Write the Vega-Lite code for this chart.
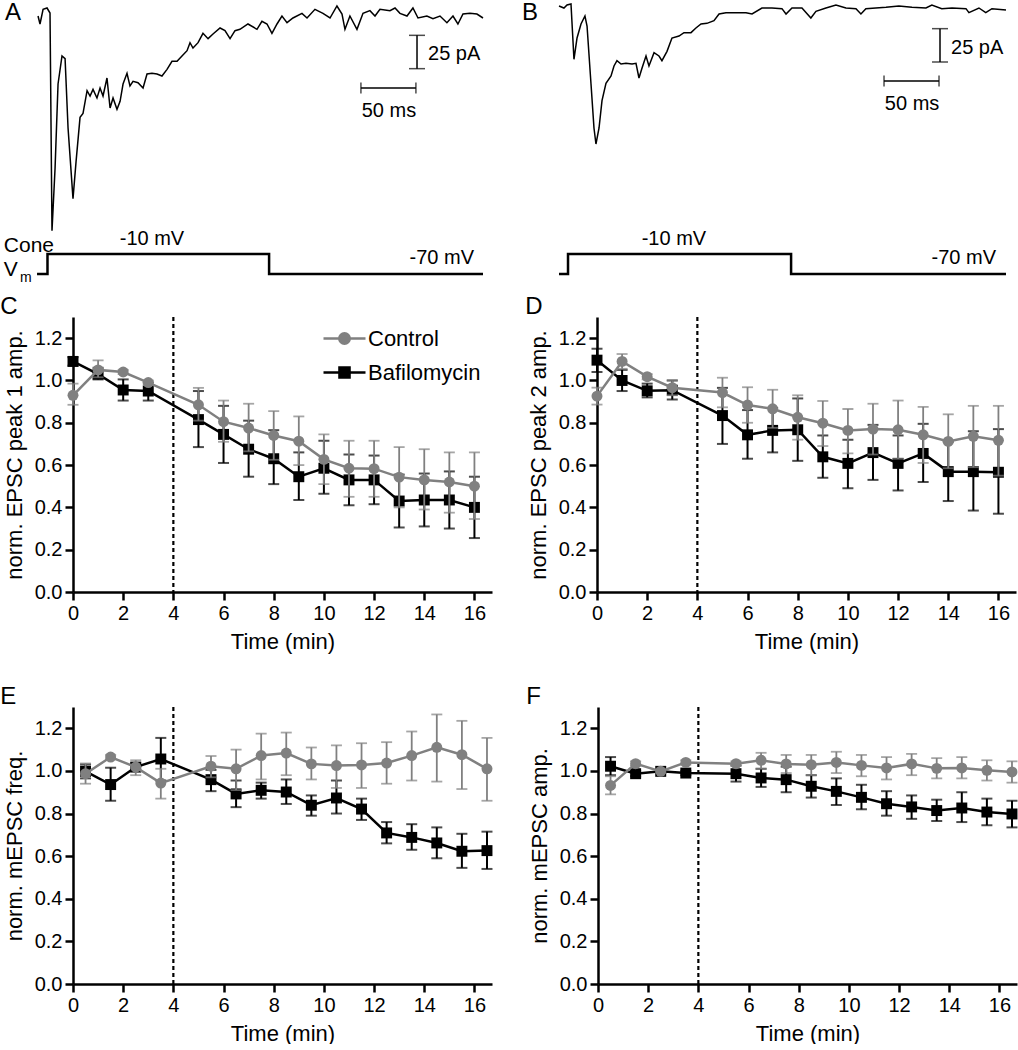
{
"$schema":"https://vega.github.io/schema/vega-lite/v6.json",
"background":"white",
"padding":{"left":0,"top":0,"right":0,"bottom":0},
"datasets":{
"C":[
{"g":"Control","t":0,"m":0.93,"lo":0.885,"hi":0.985},
{"g":"Control","t":1,"m":1.05,"lo":1.015,"hi":1.095},
{"g":"Control","t":2,"m":1.04,"lo":1.03,"hi":1.05},
{"g":"Control","t":3,"m":0.99,"lo":0.98,"hi":1.0},
{"g":"Control","t":5,"m":0.885,"lo":0.81,"hi":0.965},
{"g":"Control","t":6,"m":0.805,"lo":0.71,"hi":0.905},
{"g":"Control","t":7,"m":0.775,"lo":0.665,"hi":0.89},
{"g":"Control","t":8,"m":0.74,"lo":0.625,"hi":0.855},
{"g":"Control","t":9,"m":0.713,"lo":0.6,"hi":0.83},
{"g":"Control","t":10,"m":0.627,"lo":0.51,"hi":0.745},
{"g":"Control","t":11,"m":0.585,"lo":0.45,"hi":0.715},
{"g":"Control","t":12,"m":0.583,"lo":0.45,"hi":0.715},
{"g":"Control","t":13,"m":0.543,"lo":0.4,"hi":0.685},
{"g":"Control","t":14,"m":0.53,"lo":0.39,"hi":0.675},
{"g":"Control","t":15,"m":0.52,"lo":0.375,"hi":0.66},
{"g":"Control","t":16,"m":0.5,"lo":0.345,"hi":0.66},
{"g":"Bafilomycin","t":0,"m":1.09,"lo":1.07,"hi":1.11},
{"g":"Bafilomycin","t":1,"m":1.03,"lo":1.005,"hi":1.06},
{"g":"Bafilomycin","t":2,"m":0.955,"lo":0.905,"hi":1.005},
{"g":"Bafilomycin","t":3,"m":0.95,"lo":0.905,"hi":0.99},
{"g":"Bafilomycin","t":5,"m":0.815,"lo":0.685,"hi":0.95},
{"g":"Bafilomycin","t":6,"m":0.745,"lo":0.61,"hi":0.88},
{"g":"Bafilomycin","t":7,"m":0.675,"lo":0.545,"hi":0.81},
{"g":"Bafilomycin","t":8,"m":0.63,"lo":0.51,"hi":0.765},
{"g":"Bafilomycin","t":9,"m":0.545,"lo":0.435,"hi":0.66},
{"g":"Bafilomycin","t":10,"m":0.585,"lo":0.465,"hi":0.715},
{"g":"Bafilomycin","t":11,"m":0.53,"lo":0.41,"hi":0.65},
{"g":"Bafilomycin","t":12,"m":0.53,"lo":0.415,"hi":0.645},
{"g":"Bafilomycin","t":13,"m":0.43,"lo":0.305,"hi":0.555},
{"g":"Bafilomycin","t":14,"m":0.435,"lo":0.31,"hi":0.56},
{"g":"Bafilomycin","t":15,"m":0.435,"lo":0.3,"hi":0.57},
{"g":"Bafilomycin","t":16,"m":0.4,"lo":0.255,"hi":0.545}
],
"D":[
{"g":"Control","t":0,"m":0.926,"lo":0.886,"hi":0.966},
{"g":"Control","t":1,"m":1.09,"lo":1.055,"hi":1.125},
{"g":"Control","t":2,"m":1.018,"lo":1.005,"hi":1.03},
{"g":"Control","t":3,"m":0.966,"lo":0.93,"hi":1.0},
{"g":"Control","t":5,"m":0.943,"lo":0.873,"hi":1.013},
{"g":"Control","t":6,"m":0.884,"lo":0.8,"hi":0.968},
{"g":"Control","t":7,"m":0.866,"lo":0.776,"hi":0.956},
{"g":"Control","t":8,"m":0.826,"lo":0.72,"hi":0.93},
{"g":"Control","t":9,"m":0.798,"lo":0.69,"hi":0.903},
{"g":"Control","t":10,"m":0.764,"lo":0.655,"hi":0.865},
{"g":"Control","t":11,"m":0.77,"lo":0.65,"hi":0.89},
{"g":"Control","t":12,"m":0.767,"lo":0.63,"hi":0.905},
{"g":"Control","t":13,"m":0.743,"lo":0.61,"hi":0.875},
{"g":"Control","t":14,"m":0.712,"lo":0.585,"hi":0.84},
{"g":"Control","t":15,"m":0.736,"lo":0.59,"hi":0.88},
{"g":"Control","t":16,"m":0.717,"lo":0.55,"hi":0.88},
{"g":"Bafilomycin","t":0,"m":1.096,"lo":1.04,"hi":1.15},
{"g":"Bafilomycin","t":1,"m":1.0,"lo":0.95,"hi":1.05},
{"g":"Bafilomycin","t":2,"m":0.951,"lo":0.92,"hi":0.985},
{"g":"Bafilomycin","t":3,"m":0.954,"lo":0.91,"hi":1.0},
{"g":"Bafilomycin","t":5,"m":0.834,"lo":0.7,"hi":0.965},
{"g":"Bafilomycin","t":6,"m":0.743,"lo":0.63,"hi":0.86},
{"g":"Bafilomycin","t":7,"m":0.764,"lo":0.66,"hi":0.87},
{"g":"Bafilomycin","t":8,"m":0.767,"lo":0.62,"hi":0.915},
{"g":"Bafilomycin","t":9,"m":0.639,"lo":0.54,"hi":0.74},
{"g":"Bafilomycin","t":10,"m":0.608,"lo":0.49,"hi":0.72},
{"g":"Bafilomycin","t":11,"m":0.659,"lo":0.53,"hi":0.79},
{"g":"Bafilomycin","t":12,"m":0.608,"lo":0.48,"hi":0.74},
{"g":"Bafilomycin","t":13,"m":0.655,"lo":0.52,"hi":0.795},
{"g":"Bafilomycin","t":14,"m":0.569,"lo":0.43,"hi":0.71},
{"g":"Bafilomycin","t":15,"m":0.569,"lo":0.385,"hi":0.76},
{"g":"Bafilomycin","t":16,"m":0.566,"lo":0.37,"hi":0.77}
],
"E":[
{"g":"Control","t":0.5,"m":0.987,"lo":0.94,"hi":1.035},
{"g":"Control","t":1.5,"m":1.065,"lo":1.055,"hi":1.075},
{"g":"Control","t":2.5,"m":1.018,"lo":0.98,"hi":1.05},
{"g":"Control","t":3.5,"m":0.943,"lo":0.87,"hi":1.01},
{"g":"Control","t":5.5,"m":1.022,"lo":0.97,"hi":1.07},
{"g":"Control","t":6.5,"m":1.01,"lo":0.91,"hi":1.1},
{"g":"Control","t":7.5,"m":1.072,"lo":0.96,"hi":1.175},
{"g":"Control","t":8.5,"m":1.084,"lo":0.98,"hi":1.18},
{"g":"Control","t":9.5,"m":1.033,"lo":0.96,"hi":1.11},
{"g":"Control","t":10.5,"m":1.025,"lo":0.92,"hi":1.12},
{"g":"Control","t":11.5,"m":1.028,"lo":0.92,"hi":1.13},
{"g":"Control","t":12.5,"m":1.037,"lo":0.94,"hi":1.135},
{"g":"Control","t":13.5,"m":1.072,"lo":0.955,"hi":1.185},
{"g":"Control","t":14.5,"m":1.111,"lo":0.95,"hi":1.265},
{"g":"Control","t":15.5,"m":1.076,"lo":0.915,"hi":1.235},
{"g":"Control","t":16.5,"m":1.01,"lo":0.86,"hi":1.155},
{"g":"Bafilomycin","t":0.5,"m":0.998,"lo":0.965,"hi":1.03},
{"g":"Bafilomycin","t":1.5,"m":0.936,"lo":0.86,"hi":1.015},
{"g":"Bafilomycin","t":2.5,"m":1.018,"lo":1.0,"hi":1.035},
{"g":"Bafilomycin","t":3.5,"m":1.056,"lo":0.955,"hi":1.155},
{"g":"Bafilomycin","t":5.5,"m":0.959,"lo":0.905,"hi":1.005},
{"g":"Bafilomycin","t":6.5,"m":0.892,"lo":0.83,"hi":0.955},
{"g":"Bafilomycin","t":7.5,"m":0.909,"lo":0.87,"hi":0.945},
{"g":"Bafilomycin","t":8.5,"m":0.901,"lo":0.845,"hi":0.96},
{"g":"Bafilomycin","t":9.5,"m":0.839,"lo":0.79,"hi":0.885},
{"g":"Bafilomycin","t":10.5,"m":0.873,"lo":0.8,"hi":0.955},
{"g":"Bafilomycin","t":11.5,"m":0.821,"lo":0.77,"hi":0.87},
{"g":"Bafilomycin","t":12.5,"m":0.709,"lo":0.66,"hi":0.76},
{"g":"Bafilomycin","t":13.5,"m":0.688,"lo":0.63,"hi":0.75},
{"g":"Bafilomycin","t":14.5,"m":0.662,"lo":0.59,"hi":0.735},
{"g":"Bafilomycin","t":15.5,"m":0.623,"lo":0.545,"hi":0.705},
{"g":"Bafilomycin","t":16.5,"m":0.626,"lo":0.54,"hi":0.715}
],
"F":[
{"g":"Control","t":0.5,"m":0.932,"lo":0.89,"hi":0.975},
{"g":"Control","t":1.5,"m":1.034,"lo":1.025,"hi":1.045},
{"g":"Control","t":2.5,"m":0.998,"lo":0.99,"hi":1.006},
{"g":"Control","t":3.5,"m":1.04,"lo":1.03,"hi":1.05},
{"g":"Control","t":5.5,"m":1.034,"lo":1.025,"hi":1.045},
{"g":"Control","t":6.5,"m":1.05,"lo":1.01,"hi":1.085},
{"g":"Control","t":7.5,"m":1.033,"lo":0.99,"hi":1.075},
{"g":"Control","t":8.5,"m":1.029,"lo":0.98,"hi":1.075},
{"g":"Control","t":9.5,"m":1.04,"lo":0.99,"hi":1.09},
{"g":"Control","t":10.5,"m":1.026,"lo":0.975,"hi":1.075},
{"g":"Control","t":11.5,"m":1.014,"lo":0.96,"hi":1.065},
{"g":"Control","t":12.5,"m":1.033,"lo":0.98,"hi":1.08},
{"g":"Control","t":13.5,"m":1.012,"lo":0.965,"hi":1.06},
{"g":"Control","t":14.5,"m":1.014,"lo":0.965,"hi":1.065},
{"g":"Control","t":15.5,"m":1.003,"lo":0.955,"hi":1.05},
{"g":"Control","t":16.5,"m":0.995,"lo":0.945,"hi":1.045},
{"g":"Bafilomycin","t":0.5,"m":1.022,"lo":0.98,"hi":1.065},
{"g":"Bafilomycin","t":1.5,"m":0.987,"lo":0.975,"hi":1.0},
{"g":"Bafilomycin","t":2.5,"m":0.998,"lo":0.99,"hi":1.006},
{"g":"Bafilomycin","t":3.5,"m":0.99,"lo":0.98,"hi":1.0},
{"g":"Bafilomycin","t":5.5,"m":0.987,"lo":0.95,"hi":1.025},
{"g":"Bafilomycin","t":6.5,"m":0.967,"lo":0.925,"hi":1.01},
{"g":"Bafilomycin","t":7.5,"m":0.959,"lo":0.9,"hi":1.02},
{"g":"Bafilomycin","t":8.5,"m":0.928,"lo":0.875,"hi":0.98},
{"g":"Bafilomycin","t":9.5,"m":0.904,"lo":0.84,"hi":0.965},
{"g":"Bafilomycin","t":10.5,"m":0.876,"lo":0.82,"hi":0.935},
{"g":"Bafilomycin","t":11.5,"m":0.846,"lo":0.79,"hi":0.905},
{"g":"Bafilomycin","t":12.5,"m":0.831,"lo":0.775,"hi":0.885},
{"g":"Bafilomycin","t":13.5,"m":0.814,"lo":0.765,"hi":0.865},
{"g":"Bafilomycin","t":14.5,"m":0.826,"lo":0.76,"hi":0.9},
{"g":"Bafilomycin","t":15.5,"m":0.807,"lo":0.745,"hi":0.87},
{"g":"Bafilomycin","t":16.5,"m":0.798,"lo":0.735,"hi":0.86}
],
"traceA":[
{"t":0.9,"i":-6},{"t":2.7,"i":-12},{"t":5.5,"i":-1},{"t":9.1,"i":0},{"t":11.8,"i":-3.8},{"t":13.6,"i":-167},{"t":16.4,"i":-120},{"t":19.1,"i":-57},{"t":22.7,"i":-36},{"t":25.5,"i":-38},{"t":28.2,"i":-90},{"t":32.7,"i":-143},{"t":35.5,"i":-115},{"t":39.1,"i":-82},{"t":41.8,"i":-79},{"t":45.5,"i":-62},{"t":48.2,"i":-66},{"t":50.9,"i":-61},{"t":54.5,"i":-67.5},{"t":57.3,"i":-60},{"t":60,"i":-66},{"t":63.6,"i":-52.5},{"t":66.4,"i":-75},{"t":69.1,"i":-67.5},{"t":72.7,"i":-76},{"t":75.5,"i":-70},{"t":78.2,"i":-57},{"t":81.8,"i":-49},{"t":84.5,"i":-58.5},{"t":87.3,"i":-55},{"t":91.8,"i":-56},{"t":96.4,"i":-60},{"t":100,"i":-49.5},{"t":104.5,"i":-49},{"t":109.1,"i":-49.5},{"t":113.6,"i":-51},{"t":118.2,"i":-46},{"t":122.7,"i":-40},{"t":127.3,"i":-40},{"t":131.8,"i":-36},{"t":136.4,"i":-32},{"t":139.1,"i":-26},{"t":141.8,"i":-30},{"t":146.4,"i":-26},{"t":150.9,"i":-19},{"t":155.5,"i":-23},{"t":160,"i":-19.5},{"t":166.4,"i":-15},{"t":170.9,"i":-17},{"t":175.5,"i":-23},{"t":180,"i":-17},{"t":184.5,"i":-16},{"t":191.8,"i":-12},{"t":200,"i":-16},{"t":204.5,"i":-10},{"t":209.1,"i":-12},{"t":213.6,"i":-19},{"t":218.2,"i":-12},{"t":222.7,"i":-6},{"t":227.3,"i":-11},{"t":232.7,"i":-7.5},{"t":240.9,"i":-4},{"t":245.5,"i":-7.5},{"t":252.7,"i":-1},{"t":260,"i":-4},{"t":266.4,"i":-7.5},{"t":272.7,"i":1.5},{"t":277.3,"i":-4.5},{"t":280,"i":-16},{"t":284.5,"i":-6},{"t":290.9,"i":-16},{"t":296.4,"i":-4},{"t":302.7,"i":-2},{"t":307.3,"i":-6},{"t":311.8,"i":-1},{"t":320.9,"i":-2},{"t":325.5,"i":0},{"t":330,"i":-4},{"t":336.4,"i":-6},{"t":341.8,"i":0},{"t":346.4,"i":-7.5},{"t":354.5,"i":-6},{"t":360,"i":-8},{"t":366.4,"i":-6},{"t":372.7,"i":-11},{"t":378.2,"i":-6},{"t":382.7,"i":-12},{"t":387.3,"i":-4.5},{"t":393.6,"i":-4},{"t":400,"i":-4.5},{"t":405.5,"i":-7.5}
],
"traceB":[
{"t":0,"i":0},{"t":4.5,"i":-1.5},{"t":7.3,"i":0.75},{"t":10.9,"i":1.5},{"t":13.6,"i":-40},{"t":16.4,"i":-24},{"t":20,"i":-13.5},{"t":23.6,"i":-7.5},{"t":25.5,"i":-15},{"t":29.1,"i":-58.5},{"t":31.8,"i":-91.5},{"t":33.6,"i":-103.5},{"t":36.4,"i":-91.5},{"t":39.1,"i":-71},{"t":42.7,"i":-58},{"t":47.3,"i":-52.5},{"t":50,"i":-45},{"t":52.7,"i":-41},{"t":56.4,"i":-43.5},{"t":60.9,"i":-43},{"t":66.4,"i":-43.5},{"t":70,"i":-43},{"t":72.7,"i":-54},{"t":75.5,"i":-46.5},{"t":79.1,"i":-37.5},{"t":81.8,"i":-45},{"t":86.4,"i":-35},{"t":90.9,"i":-37.5},{"t":93.6,"i":-41},{"t":98.2,"i":-34},{"t":102.7,"i":-24},{"t":109.1,"i":-22.5},{"t":113.6,"i":-20},{"t":120,"i":-20},{"t":124.5,"i":-16.5},{"t":129.1,"i":-13.5},{"t":134.5,"i":-13},{"t":140.9,"i":-11},{"t":145.5,"i":-6},{"t":151.8,"i":-5},{"t":160.9,"i":-5},{"t":170,"i":-5},{"t":175.5,"i":-6},{"t":184.5,"i":-1.5},{"t":193.6,"i":-1.5},{"t":202.7,"i":-2},{"t":206.4,"i":-6},{"t":211.8,"i":-1.5},{"t":220.9,"i":-1.5},{"t":229,"i":-9},{"t":233.6,"i":-4},{"t":242.7,"i":-1.5},{"t":251.8,"i":0.75},{"t":260.9,"i":-1.5},{"t":270,"i":-2},{"t":274.5,"i":-6},{"t":279,"i":-2},{"t":288,"i":-1.5},{"t":297.3,"i":-1},{"t":309,"i":0},{"t":320.9,"i":-1},{"t":333.6,"i":-1.5},{"t":339,"i":0.75},{"t":348,"i":-2},{"t":357.3,"i":-1.5},{"t":370,"i":-2},{"t":372.7,"i":-5},{"t":381.8,"i":-1.5},{"t":388,"i":-5},{"t":393.6,"i":-2},{"t":406.4,"i":-3}
],
"stepA":[{"t":0,"v":-70},{"t":9.5,"v":-10},{"t":211,"v":-70},{"t":405.5,"v":-70}],
"stepB":[{"t":0,"v":-70},{"t":8.2,"v":-10},{"t":211,"v":-70},{"t":406.4,"v":-70}],
"vbarA":[{"t":345.5,"lo":-45.5,"hi":-20.5}],
"hbarA":[{"i":-60,"t1":294.5,"t2":344.5}],
"vbarB":[{"t":346.4,"lo":-42,"hi":-17}],
"hbarB":[{"i":-56.25,"t1":295.5,"t2":345.5}]
},
"columns":1,
"spacing":9,
"resolve":{"scale":{"fill":"independent","stroke":"independent","shape":"independent"},"legend":{"fill":"independent","stroke":"independent","shape":"independent"}},
"concat":[
{"hconcat":[
 {"width":410,"height":280,
  "resolve":{"scale":{"y":"independent"}},
  "layer":[
   {"layer":[
    {"data":{"name":"traceA"},"mark":{"type":"line","color":"black","strokeWidth":1.5},
     "encoding":{"x":{"field":"t","type":"quantitative","scale":{"domain":[32.7,405.5],"nice":false,"zero":false},"axis":null},
                 "y":{"field":"i","type":"quantitative","scale":{"domain":[-204.75,5.25],"nice":false,"zero":false},"axis":null}}},
    {"data":{"name":"vbarA"},"mark":{"type":"errorbar","color":"black","thickness":1.5,"ticks":{"size":16,"thickness":1.5}},
     "encoding":{"x":{"field":"t","type":"quantitative"},"y":{"field":"lo","type":"quantitative"},"y2":{"field":"hi"}}},
    {"data":{"name":"hbarA"},"mark":{"type":"errorbar","color":"black","thickness":1.5,"ticks":{"size":11,"thickness":1.5}},
     "encoding":{"y":{"field":"i","type":"quantitative"},"x":{"field":"t1","type":"quantitative"},"x2":{"field":"t2"}}},
    {"data":{"values":[{}]},"mark":{"type":"text","text":"A","fontSize":24,"align":"left","baseline":"middle"},"encoding":{"x":{"datum":-29.2},"y":{"datum":-3.5}}},
    {"data":{"values":[{}]},"mark":{"type":"text","text":"25 pA","align":"left","baseline":"middle"},"encoding":{"x":{"datum":355.5},"y":{"datum":-34.5}}},
    {"data":{"values":[{}]},"mark":{"type":"text","text":"50 ms","align":"center","baseline":"middle"},"encoding":{"x":{"datum":320},"y":{"datum":-77}}}
   ]},
   {"layer":[
    {"data":{"name":"stepA"},"mark":{"type":"line","color":"black","strokeWidth":2.5,"interpolate":"step-after"},
     "encoding":{"x":{"field":"t","type":"quantitative"},"y":{"field":"v","type":"quantitative","scale":{"domain":[-91,749],"nice":false,"zero":false},"axis":null}}},
    {"data":{"values":[{}]},"mark":{"type":"text","text":"-10 mV","align":"center","baseline":"middle"},"encoding":{"x":{"datum":104.5},"y":{"datum":35}}},
    {"data":{"values":[{}]},"mark":{"type":"text","text":"-70 mV","align":"center","baseline":"middle"},"encoding":{"x":{"datum":368},"y":{"datum":-22}}},
    {"data":{"values":[{}]},"mark":{"type":"text","text":"Cone","align":"left","baseline":"middle","fontSize":21},"encoding":{"x":{"datum":-30.2},"y":{"datum":14}}},
    {"data":{"values":[{}]},"mark":{"type":"text","text":"V","align":"left","baseline":"middle","fontSize":21},"encoding":{"x":{"datum":-30.2},"y":{"datum":-58}}},
    {"data":{"values":[{}]},"mark":{"type":"text","text":"m","align":"left","baseline":"middle","fontSize":14},"encoding":{"x":{"datum":-15.5},"y":{"datum":-82}}}
   ]}
  ]},
 {"width":447,"height":280,
  "resolve":{"scale":{"y":"independent"}},
  "layer":[
   {"layer":[
    {"data":{"name":"traceB"},"mark":{"type":"line","color":"black","strokeWidth":1.5},
     "encoding":{"x":{"field":"t","type":"quantitative","scale":{"domain":[0,406.4],"nice":false,"zero":false},"axis":null},
                 "y":{"field":"i","type":"quantitative","scale":{"domain":[-206.25,3.75],"nice":false,"zero":false},"axis":null}}},
    {"data":{"name":"vbarB"},"mark":{"type":"errorbar","color":"black","thickness":1.5,"ticks":{"size":16,"thickness":1.5}},
     "encoding":{"x":{"field":"t","type":"quantitative"},"y":{"field":"lo","type":"quantitative"},"y2":{"field":"hi"}}},
    {"data":{"name":"hbarB"},"mark":{"type":"errorbar","color":"black","thickness":1.5,"ticks":{"size":11,"thickness":1.5}},
     "encoding":{"y":{"field":"i","type":"quantitative"},"x":{"field":"t1","type":"quantitative"},"x2":{"field":"t2"}}},
    {"data":{"values":[{}]},"mark":{"type":"text","text":"B","fontSize":24,"align":"left","baseline":"middle"},"encoding":{"x":{"datum":-33.6},"y":{"datum":-5}}},
    {"data":{"values":[{}]},"mark":{"type":"text","text":"25 pA","align":"left","baseline":"middle"},"encoding":{"x":{"datum":356.4},"y":{"datum":-31.5}}},
    {"data":{"values":[{}]},"mark":{"type":"text","text":"50 ms","align":"center","baseline":"middle"},"encoding":{"x":{"datum":321},"y":{"datum":-73.5}}}
   ]},
   {"layer":[
    {"data":{"name":"stepB"},"mark":{"type":"line","color":"black","strokeWidth":2.5,"interpolate":"step-after"},
     "encoding":{"x":{"field":"t","type":"quantitative"},"y":{"field":"v","type":"quantitative","scale":{"domain":[-91,749],"nice":false,"zero":false},"axis":null}}},
    {"data":{"values":[{}]},"mark":{"type":"text","text":"-10 mV","align":"center","baseline":"middle"},"encoding":{"x":{"datum":104.5},"y":{"datum":35}}},
    {"data":{"values":[{}]},"mark":{"type":"text","text":"-70 mV","align":"center","baseline":"middle"},"encoding":{"x":{"datum":368},"y":{"datum":-22}}}
   ]}
  ]}
],"spacing":34},
{"columns":1,
 "spacing":32,
 "resolve":{"scale":{"fill":"independent","stroke":"independent","shape":"independent"},"legend":{"fill":"independent","stroke":"independent","shape":"independent"}},
 "concat":[
 {"spacing":33,
  "resolve":{"scale":{"fill":"independent","stroke":"independent","shape":"independent"},"legend":{"fill":"independent","stroke":"independent","shape":"independent"}},
  "hconcat":[
  {"title":{"text":"C","anchor":"start","frame":"bounds","fontSize":24,"fontWeight":"normal","offset":-3,"dx":-3},
   "width":419,"height":275,"data":{"name":"C"},
   "layer":[
    {"data":{"values":[{}]},"mark":{"type":"rule","strokeDash":[4,3],"strokeWidth":2.2,"color":"black"},"encoding":{"x":{"datum":4,"type":"quantitative","scale":{"domain":[0,16.7],"nice":false,"zero":false}}}},
    {"transform":[{"filter":"datum.g === 'Bafilomycin'"}],"mark":{"type":"errorbar","color":"black","thickness":2,"ticks":{"size":11,"thickness":2}},
     "encoding":{"x":{"field":"t","type":"quantitative","title":"Time (min)","scale":{"domain":[0,16.7],"nice":false,"zero":false},"axis":{"values":[0,2,4,6,8,10,12,14,16]}},
                 "y":{"field":"lo","type":"quantitative","title":"norm. EPSC peak 1 amp.","scale":{"domain":[0,1.3],"nice":false,"zero":false},"axis":{"values":[0,0.2,0.4,0.6,0.8,1,1.2],"format":".1f"}},"y2":{"field":"hi"}}},
    {"transform":[{"filter":"datum.g === 'Bafilomycin'"}],"mark":{"type":"line","color":"black","strokeWidth":2.5},
     "encoding":{"x":{"field":"t","type":"quantitative","title":"Time (min)"},"y":{"field":"m","type":"quantitative","title":"norm. EPSC peak 1 amp."}}},
    {"transform":[{"filter":"datum.g === 'Bafilomycin'"}],"mark":{"type":"point","shape":"square","filled":true,"color":"black","size":120,"opacity":1},
     "encoding":{"x":{"field":"t","type":"quantitative","title":"Time (min)"},"y":{"field":"m","type":"quantitative","title":"norm. EPSC peak 1 amp."}}},
    {"transform":[{"filter":"datum.g === 'Control'"}],"mark":{"type":"errorbar","color":"#808080","thickness":1.8,"ticks":{"size":11,"thickness":1.8}},
     "encoding":{"x":{"field":"t","type":"quantitative","title":"Time (min)"},"y":{"field":"lo","type":"quantitative","title":"norm. EPSC peak 1 amp."},"y2":{"field":"hi"}}},
    {"transform":[{"filter":"datum.g === 'Control'"}],"mark":{"type":"line","color":"#808080","strokeWidth":2.5},
     "encoding":{"x":{"field":"t","type":"quantitative","title":"Time (min)"},"y":{"field":"m","type":"quantitative","title":"norm. EPSC peak 1 amp."}}},
    {"transform":[{"filter":"datum.g === 'Control'"}],"mark":{"type":"point","shape":"circle","filled":true,"color":"#808080","size":120,"opacity":1},
     "encoding":{"x":{"field":"t","type":"quantitative","title":"Time (min)"},"y":{"field":"m","type":"quantitative","title":"norm. EPSC peak 1 amp."}}},
    {"data":{"values":[{"g":"Control"},{"g":"Bafilomycin"}]},"mark":{"type":"point","filled":true,"opacity":0},
     "encoding":{"x":{"datum":8},"y":{"datum":1.2},
      "fill":{"field":"g","type":"nominal","scale":{"domain":["Control","Bafilomycin"],"range":["#808080","#000000"]},"legend":{"title":null,"orient":"none","legendX":249,"legendY":-1,"labelFontSize":22,"labelColor":"black","symbolSize":1764,"symbolStrokeWidth":2.5,"symbolFillColor":"#000000","symbolOpacity":1,"labelOffset":1,"rowPadding":-1,"padding":0}},
      "stroke":{"field":"g","type":"nominal","scale":{"domain":["Control","Bafilomycin"],"range":["#808080","#000000"]},"legend":{"title":null,"orient":"none","legendX":249,"legendY":-1,"labelFontSize":22,"labelColor":"black","symbolSize":1764,"symbolStrokeWidth":2.5,"symbolFillColor":"#000000","symbolOpacity":1,"labelOffset":1,"rowPadding":-1,"padding":0}},
      "shape":{"field":"g","type":"nominal","scale":{"domain":["Control","Bafilomycin"],"range":["M-1,0H1M0.25,0A0.25,0.25,0,1,1,-0.25,0A0.25,0.25,0,1,1,0.25,0Z","M-1,0H1M-0.24,-0.24H0.24V0.24H-0.24Z"]},"legend":{"title":null,"orient":"none","legendX":249,"legendY":-1,"labelFontSize":22,"labelColor":"black","symbolSize":1764,"symbolStrokeWidth":2.5,"symbolFillColor":"#000000","symbolOpacity":1,"labelOffset":1,"rowPadding":-1,"padding":0}}}}
   ]},
  {"title":{"text":"D","anchor":"start","frame":"bounds","fontSize":24,"fontWeight":"normal","offset":-3,"dx":-2},
   "width":419,"height":275,"data":{"name":"D"},
   "layer":[
    {"data":{"values":[{}]},"mark":{"type":"rule","strokeDash":[4,3],"strokeWidth":2.2,"color":"black"},"encoding":{"x":{"datum":4,"type":"quantitative","scale":{"domain":[0,16.7],"nice":false,"zero":false}}}},
    {"transform":[{"filter":"datum.g === 'Bafilomycin'"}],"mark":{"type":"errorbar","color":"black","thickness":2,"ticks":{"size":11,"thickness":2}},
     "encoding":{"x":{"field":"t","type":"quantitative","title":"Time (min)","scale":{"domain":[0,16.7],"nice":false,"zero":false},"axis":{"values":[0,2,4,6,8,10,12,14,16]}},
                 "y":{"field":"lo","type":"quantitative","title":"norm. EPSC peak 2 amp.","scale":{"domain":[0,1.3],"nice":false,"zero":false},"axis":{"values":[0,0.2,0.4,0.6,0.8,1,1.2],"format":".1f"}},"y2":{"field":"hi"}}},
    {"transform":[{"filter":"datum.g === 'Bafilomycin'"}],"mark":{"type":"line","color":"black","strokeWidth":2.5},
     "encoding":{"x":{"field":"t","type":"quantitative","title":"Time (min)"},"y":{"field":"m","type":"quantitative","title":"norm. EPSC peak 2 amp."}}},
    {"transform":[{"filter":"datum.g === 'Bafilomycin'"}],"mark":{"type":"point","shape":"square","filled":true,"color":"black","size":120,"opacity":1},
     "encoding":{"x":{"field":"t","type":"quantitative","title":"Time (min)"},"y":{"field":"m","type":"quantitative","title":"norm. EPSC peak 2 amp."}}},
    {"transform":[{"filter":"datum.g === 'Control'"}],"mark":{"type":"errorbar","color":"#808080","thickness":1.8,"ticks":{"size":11,"thickness":1.8}},
     "encoding":{"x":{"field":"t","type":"quantitative","title":"Time (min)"},"y":{"field":"lo","type":"quantitative","title":"norm. EPSC peak 2 amp."},"y2":{"field":"hi"}}},
    {"transform":[{"filter":"datum.g === 'Control'"}],"mark":{"type":"line","color":"#808080","strokeWidth":2.5},
     "encoding":{"x":{"field":"t","type":"quantitative","title":"Time (min)"},"y":{"field":"m","type":"quantitative","title":"norm. EPSC peak 2 amp."}}},
    {"transform":[{"filter":"datum.g === 'Control'"}],"mark":{"type":"point","shape":"circle","filled":true,"color":"#808080","size":120,"opacity":1},
     "encoding":{"x":{"field":"t","type":"quantitative","title":"Time (min)"},"y":{"field":"m","type":"quantitative","title":"norm. EPSC peak 2 amp."}}}
   ]}
 ]},
 {"spacing":33,"hconcat":[
  {"title":{"text":"E","anchor":"start","frame":"bounds","fontSize":24,"fontWeight":"normal","offset":-3,"dx":-3},
   "width":419,"height":277,"data":{"name":"E"},
   "layer":[
    {"data":{"values":[{}]},"mark":{"type":"rule","strokeDash":[4,3],"strokeWidth":2.2,"color":"black"},"encoding":{"x":{"datum":4,"type":"quantitative","scale":{"domain":[0,16.7],"nice":false,"zero":false}}}},
    {"transform":[{"filter":"datum.g === 'Bafilomycin'"}],"mark":{"type":"errorbar","color":"black","thickness":2,"ticks":{"size":11,"thickness":2}},
     "encoding":{"x":{"field":"t","type":"quantitative","title":"Time (min)","scale":{"domain":[0,16.7],"nice":false,"zero":false},"axis":{"values":[0,2,4,6,8,10,12,14,16]}},
                 "y":{"field":"lo","type":"quantitative","title":"norm. mEPSC freq.","scale":{"domain":[0,1.3],"nice":false,"zero":false},"axis":{"values":[0,0.2,0.4,0.6,0.8,1,1.2],"format":".1f"}},"y2":{"field":"hi"}}},
    {"transform":[{"filter":"datum.g === 'Bafilomycin'"}],"mark":{"type":"line","color":"black","strokeWidth":2.5},
     "encoding":{"x":{"field":"t","type":"quantitative","title":"Time (min)"},"y":{"field":"m","type":"quantitative","title":"norm. mEPSC freq."}}},
    {"transform":[{"filter":"datum.g === 'Bafilomycin'"}],"mark":{"type":"point","shape":"square","filled":true,"color":"black","size":120,"opacity":1},
     "encoding":{"x":{"field":"t","type":"quantitative","title":"Time (min)"},"y":{"field":"m","type":"quantitative","title":"norm. mEPSC freq."}}},
    {"transform":[{"filter":"datum.g === 'Control'"}],"mark":{"type":"errorbar","color":"#808080","thickness":1.8,"ticks":{"size":11,"thickness":1.8}},
     "encoding":{"x":{"field":"t","type":"quantitative","title":"Time (min)"},"y":{"field":"lo","type":"quantitative","title":"norm. mEPSC freq."},"y2":{"field":"hi"}}},
    {"transform":[{"filter":"datum.g === 'Control'"}],"mark":{"type":"line","color":"#808080","strokeWidth":2.5},
     "encoding":{"x":{"field":"t","type":"quantitative","title":"Time (min)"},"y":{"field":"m","type":"quantitative","title":"norm. mEPSC freq."}}},
    {"transform":[{"filter":"datum.g === 'Control'"}],"mark":{"type":"point","shape":"circle","filled":true,"color":"#808080","size":120,"opacity":1},
     "encoding":{"x":{"field":"t","type":"quantitative","title":"Time (min)"},"y":{"field":"m","type":"quantitative","title":"norm. mEPSC freq."}}}
   ]},
  {"title":{"text":"F","anchor":"start","frame":"bounds","fontSize":24,"fontWeight":"normal","offset":-3,"dx":-2},
   "width":419,"height":277,"data":{"name":"F"},
   "layer":[
    {"data":{"values":[{}]},"mark":{"type":"rule","strokeDash":[4,3],"strokeWidth":2.2,"color":"black"},"encoding":{"x":{"datum":4,"type":"quantitative","scale":{"domain":[0,16.7],"nice":false,"zero":false}}}},
    {"transform":[{"filter":"datum.g === 'Bafilomycin'"}],"mark":{"type":"errorbar","color":"black","thickness":2,"ticks":{"size":11,"thickness":2}},
     "encoding":{"x":{"field":"t","type":"quantitative","title":"Time (min)","scale":{"domain":[0,16.7],"nice":false,"zero":false},"axis":{"values":[0,2,4,6,8,10,12,14,16]}},
                 "y":{"field":"lo","type":"quantitative","title":"norm. mEPSC amp.","scale":{"domain":[0,1.3],"nice":false,"zero":false},"axis":{"values":[0,0.2,0.4,0.6,0.8,1,1.2],"format":".1f"}},"y2":{"field":"hi"}}},
    {"transform":[{"filter":"datum.g === 'Bafilomycin'"}],"mark":{"type":"line","color":"black","strokeWidth":2.5},
     "encoding":{"x":{"field":"t","type":"quantitative","title":"Time (min)"},"y":{"field":"m","type":"quantitative","title":"norm. mEPSC amp."}}},
    {"transform":[{"filter":"datum.g === 'Bafilomycin'"}],"mark":{"type":"point","shape":"square","filled":true,"color":"black","size":120,"opacity":1},
     "encoding":{"x":{"field":"t","type":"quantitative","title":"Time (min)"},"y":{"field":"m","type":"quantitative","title":"norm. mEPSC amp."}}},
    {"transform":[{"filter":"datum.g === 'Control'"}],"mark":{"type":"errorbar","color":"#808080","thickness":1.8,"ticks":{"size":11,"thickness":1.8}},
     "encoding":{"x":{"field":"t","type":"quantitative","title":"Time (min)"},"y":{"field":"lo","type":"quantitative","title":"norm. mEPSC amp."},"y2":{"field":"hi"}}},
    {"transform":[{"filter":"datum.g === 'Control'"}],"mark":{"type":"line","color":"#808080","strokeWidth":2.5},
     "encoding":{"x":{"field":"t","type":"quantitative","title":"Time (min)"},"y":{"field":"m","type":"quantitative","title":"norm. mEPSC amp."}}},
    {"transform":[{"filter":"datum.g === 'Control'"}],"mark":{"type":"point","shape":"circle","filled":true,"color":"#808080","size":120,"opacity":1},
     "encoding":{"x":{"field":"t","type":"quantitative","title":"Time (min)"},"y":{"field":"m","type":"quantitative","title":"norm. mEPSC amp."}}}
   ]}
 ]}
]}
],
"config":{
 "font":"Liberation Sans",
 "view":{"stroke":null},
 "axis":{"domainColor":"black","domainWidth":2.5,"tickColor":"black","tickWidth":2.5,"tickSize":8,"labelFontSize":20,"titleFontSize":22,"labelColor":"black","titleColor":"black","titleFontWeight":"normal","grid":false,"labelPadding":3,"titlePadding":8,"labelFlush":false},
 "text":{"fontSize":20,"color":"black","font":"Liberation Sans"},
 "title":{"fontWeight":"normal","color":"black"}
}
}
